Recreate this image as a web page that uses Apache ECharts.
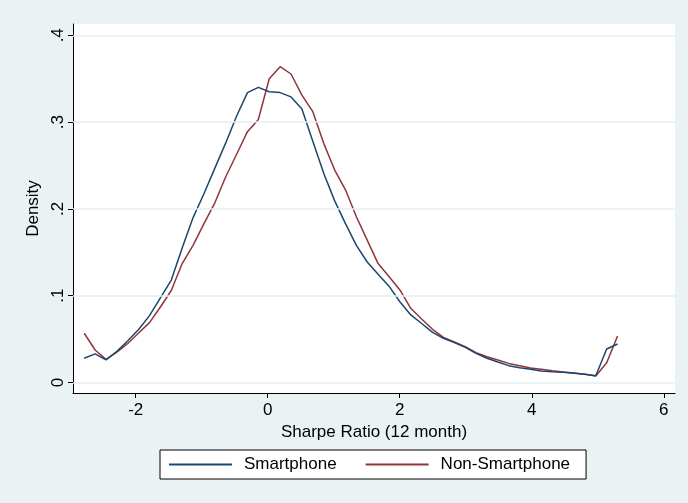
<!DOCTYPE html>
<html>
<head>
<meta charset="utf-8">
<script src="https://cdn.jsdelivr.net/npm/echarts@6/dist/echarts.min.js"></script>
<style>
html,body{margin:0;padding:0;background:#EAF2F3;}
#main{width:688px;height:503px;}
</style>
</head>
<body>
<div id="main"></div>
<script>
var xGrid = [-2.780,-2.615,-2.450,-2.285,-2.120,-1.956,-1.791,-1.626,-1.461,-1.296,
  -1.131,-0.966,-0.801,-0.636,-0.471,-0.307,-0.142,0.023,0.188,0.353,
  0.518,0.683,0.848,1.013,1.178,1.343,1.507,1.672,1.837,2.002,
  2.167,2.332,2.497,2.662,2.827,2.992,3.156,3.321,3.486,3.651,
  3.816,3.981,4.146,4.311,4.476,4.640,4.805,4.970,5.135,5.300];
var smartphone = [0.028,0.033,0.026,0.036,0.048,0.061,0.077,0.0975,0.118,0.155,
  0.190,0.2175,0.247,0.276,0.307,0.334,0.340,0.335,0.334,0.329,
  0.315,0.278,0.241,0.2095,0.183,0.158,0.1388,0.1246,0.111,0.093,
  0.0778,0.068,0.0578,0.051,0.0459,0.0405,0.0336,0.0279,0.0236,0.0194,
  0.0171,0.0152,0.0132,0.0124,0.0117,0.0106,0.0094,0.0078,0.0386,0.0444];
var nonSmartphone = [0.0567,0.0374,0.0267,0.035,0.045,0.057,0.069,0.087,0.106,0.137,
  0.158,0.183,0.207,0.237,0.263,0.289,0.303,0.350,0.3638,0.3554,
  0.331,0.312,0.2755,0.245,0.222,0.191,0.164,0.137,0.122,0.1066,
  0.0855,0.0731,0.0613,0.052,0.0467,0.0413,0.0344,0.0297,0.026,0.022,
  0.0194,0.0167,0.0152,0.0136,0.0121,0.011,0.0094,0.0075,0.0228,0.0536];
var xTicks = [-2, 0, 2, 4, 6];
var xTickLabels = ['-2', '0', '2', '4', '6'];
var yTicks = [0, 0.1, 0.2, 0.3, 0.4];
var yTickLabels = ['0', '.1', '.2', '.3', '.4'];
var seriesNames = ['Smartphone', 'Non-Smartphone'];

function pairs(ys){ return ys.map(function(v,i){ return [xGrid[i], v]; }); }

var chart = echarts.init(document.getElementById('main'), null, {renderer:'canvas'});
var font = 'Liberation Sans, Arial, Helvetica, sans-serif';
chart.setOption({
  backgroundColor: '#EAF2F3',
  animation: false,
  grid: {left: 73, right: 13, top: 24, bottom: 110, show: true, backgroundColor: '#ffffff', borderWidth: 0, containLabel: false},
  xAxis: {
    type: 'value', min: -2.95, max: 6.17,
    name: 'Sharpe Ratio (12 month)', nameLocation: 'middle', nameGap: 26,
    nameTextStyle: {fontFamily: font, fontSize: 17, color: '#000'},
    axisLine: {show: true, onZero: false, lineStyle: {color: '#000', width: 1}},
    axisTick: {show: true, length: 5, customValues: xTicks, lineStyle: {color: '#000'}},
    axisLabel: {customValues: xTicks, margin: 9, fontFamily: font, fontSize: 17, color: '#000',
      formatter: function(v){ var i = xTicks.indexOf(v); return i >= 0 ? xTickLabels[i] : ''; }},
    splitLine: {show: false}
  },
  yAxis: {
    type: 'value', min: -0.0121, max: 0.413,
    name: 'Density', nameLocation: 'middle', nameGap: 25, nameRotate: 90,
    nameTextStyle: {fontFamily: font, fontSize: 17, color: '#000'},
    axisLine: {show: true, onZero: false, lineStyle: {color: '#000', width: 1}},
    axisTick: {show: true, length: 5, customValues: yTicks, lineStyle: {color: '#000'}},
    axisLabel: {customValues: yTicks, rotate: 90, margin: 6, fontFamily: font, fontSize: 17, color: '#000',
      formatter: function(v){ for (var i=0;i<yTicks.length;i++){ if (Math.abs(yTicks[i]-v)<1e-9) return yTickLabels[i]; } return ''; }},
    splitLine: {show: false}
  },
  legend: {
    data: [
      {name: seriesNames[0], icon: 'rect'},
      {name: seriesNames[1], icon: 'rect'}
    ],
    left: 160, top: 450,
    itemWidth: 63, itemHeight: 2, itemGap: 29,
    padding: [6, 16, 6, 9],
    backgroundColor: '#ffffff', borderColor: '#000', borderWidth: 1, borderRadius: 0,
    textStyle: {fontFamily: font, fontSize: 17, color: '#000', padding: [0, 0, 0, 7]}
  },
  series: [
    {
      name: 'gridlines', type: 'line', data: pairs(smartphone), z: 1,
      showSymbol: false, silent: true, lineStyle: {opacity: 0},
      markLine: {
        silent: true, symbol: 'none', animation: false,
        label: {show: false},
        lineStyle: {color: '#E6EEF1', width: 1.5, type: 'solid'},
        data: yTicks.map(function(v){ return {yAxis: v}; })
      }
    },
    {
      name: seriesNames[0], type: 'line', data: pairs(smartphone), z: 3,
      showSymbol: false, color: '#1A476F',
      lineStyle: {color: '#1A476F', width: 1.5}
    },
    {
      name: seriesNames[1], type: 'line', data: pairs(nonSmartphone), z: 2,
      showSymbol: false, color: '#90353B',
      lineStyle: {color: '#90353B', width: 1.5}
    }
  ]
});
</script>
</body>
</html>
